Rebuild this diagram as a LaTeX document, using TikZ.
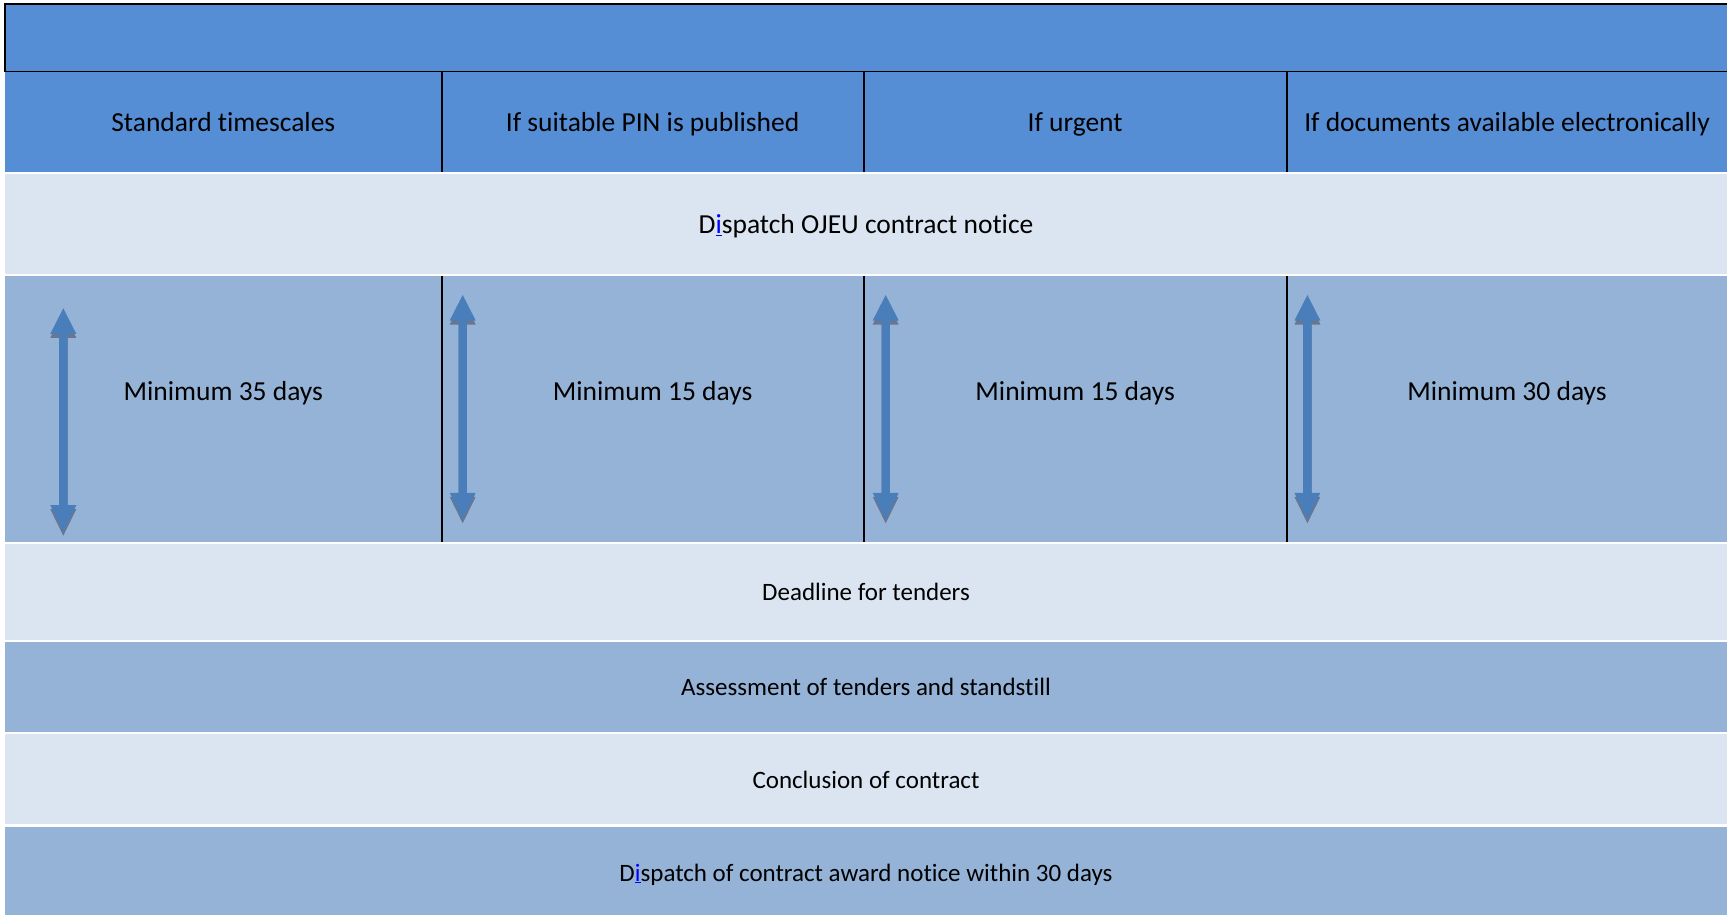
\documentclass[tikz,border=0pt]{standalone}
\usepackage{fontspec}
\setmainfont{Carlito}[Ligatures=NoCommon]
\usetikzlibrary{positioning}
\definecolor{hdrblue}{RGB}{85,142,213}
\definecolor{midblue}{RGB}{149,179,215}
\definecolor{lightblue}{RGB}{219,229,241}
\definecolor{arrblue}{RGB}{74,126,187}
\definecolor{shadowgrey}{RGB}{104,119,145}
\definecolor{linkblue}{RGB}{0,0,255}
\newcommand\blueI{\textcolor{linkblue}{\underline{i}}}
\newcommand\dblarr[3]{%
  \fill[shadowgrey] ({#1},{#2+4}) -- ({#1+13},{#2+29.5}) -- ({#1+4.2},{#2+29.5}) -- ({#1+4.2},{#3-22.5}) -- ({#1+13},{#3-22.5}) -- ({#1},{#3+4}) -- ({#1-13},{#3-22.5}) -- ({#1-4.2},{#3-22.5}) -- ({#1-4.2},{#2+29.5}) -- ({#1-13},{#2+29.5}) -- cycle;
  \fill[arrblue] ({#1},{#2}) -- ({#1+13},{#2+25.5}) -- ({#1+4.2},{#2+25.5}) -- ({#1+4.2},{#3-26.5}) -- ({#1+13},{#3-26.5}) -- ({#1},{#3}) -- ({#1-13},{#3-26.5}) -- ({#1-4.2},{#3-26.5}) -- ({#1-4.2},{#2+25.5}) -- ({#1-13},{#2+25.5}) -- cycle;
}
\tikzset{
  lbl/.style={inner sep=0pt, anchor=base, font=\fontsize{27.5}{33}\selectfont, text=black},
  lblsmall/.style={inner sep=0pt, anchor=base, font=\fontsize{25}{30}\selectfont, text=black},
  divider/.style={black, line width=2pt},
}
\begin{document}
\begin{tikzpicture}[x=1pt,y=-1pt]
\useasboundingbox (0,0) rectangle (1727,915);
\fill[white] (0,0) rectangle (1727,915);
% header rows
\fill[hdrblue] (5,4) rectangle (1740,71.5);
\draw[black, line width=1.5pt] (1740,4) -- (5,4) -- (5,71.5) -- (1740,71.5);
\fill[hdrblue] (5,72.3) rectangle (1727,172);
% body rows
\fill[lightblue] (5,174) rectangle (1727,274);
\fill[midblue]   (5,276) rectangle (1727,541.7);
\fill[lightblue] (5,543.5) rectangle (1727,640);
\fill[midblue]   (5,642) rectangle (1727,731.7);
\fill[lightblue] (5,734) rectangle (1727,824.3);
\fill[midblue]   (5,826.7) rectangle (1727,915);
% dividers
\foreach \xx in {441.7,863.5,1286.7}{
  \draw[divider] (\xx,72) -- (\xx,172);
  \draw[divider] (\xx,275.5) -- (\xx,541.7);
}
% arrows
\dblarr{63.3}{308.3}{531.7}
\dblarr{462.7}{295}{519.3}
\dblarr{885.7}{295}{519.3}
\dblarr{1307.4}{295}{519.3}
% header labels
\node[lbl] (h1) at (223.3,131.7) {Standard timescales};
\node[lbl] (h2) at (652.6,131.7) {If suitable PIN is published};
\node[lbl] (h3) at (1075.1,131.7) {If urgent};
\node[lbl] (h4) at (1507,131.7) {If documents available electronically};
% rows
\node[lbl] (r1) at (866,233.3) {D\blueI spatch OJEU contract notice};
\node[lbl] (m1) at (223.3,400.7) {Minimum 35 days};
\node[lbl] (m2) at (652.6,400.7) {Minimum 15 days};
\node[lbl] (m3) at (1075.1,400.7) {Minimum 15 days};
\node[lbl] (m4) at (1507,400.7) {Minimum 30 days};
\node[lblsmall] (r2) at (866,600.5) {Deadline for tenders};
\node[lblsmall] (r3) at (866,695) {Assessment of tenders and standstill};
\node[lblsmall] (r4) at (866,788) {Conclusion of contract};
\node[lblsmall] (r5) at (866,881) {D\blueI spatch of contract award notice within 30 days};
\end{tikzpicture}
\end{document}
